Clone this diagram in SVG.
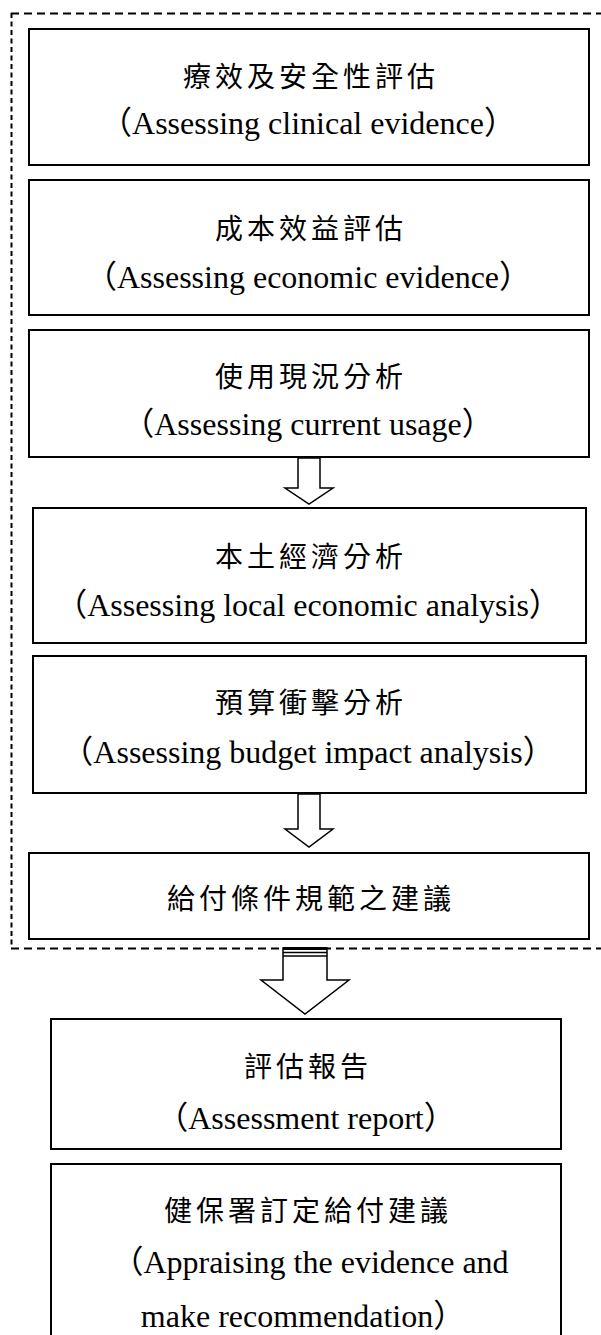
<svg xmlns="http://www.w3.org/2000/svg" width="601" height="1335" viewBox="0 0 601 1335">
<style>
.box{fill:#fff;stroke:#000;stroke-width:2}
.zh{font-family:"Noto Sans CJK TC","Noto Sans CJK SC",sans-serif;font-size:28px;letter-spacing:4px;text-anchor:middle;dominant-baseline:central;fill:#000}
.en{font-family:"Liberation Serif","Noto Sans CJK TC",serif;font-size:32px;text-anchor:middle;dominant-baseline:central;fill:#000}
.arrow{fill:#fff;stroke:#000;stroke-width:1.5;stroke-linejoin:miter}
.dh{stroke:#000;stroke-width:2;stroke-dasharray:8 5;fill:none}
.dv{stroke:#000;stroke-width:2;stroke-dasharray:5 3.5;fill:none}
</style>
<rect width="601" height="1335" fill="#fff"/>
<g id="group-border">
<line class="dh" x1="11" y1="13.5" x2="601" y2="13.5"/>
<line class="dv" x1="11.5" y1="13" x2="11.5" y2="948"/>
<line class="dh" x1="11" y1="948.5" x2="601" y2="948.5"/>
</g>
<g id="node1">
<rect class="box" x="29" y="29" width="560" height="136"/>
<text class="zh" x="311" y="75">療效及安全性評估</text>
<text class="en" x="308" y="123">（Assessing clinical evidence）</text>
</g>
<g id="node2">
<rect class="box" x="29" y="180" width="560" height="135"/>
<text class="zh" x="311" y="227">成本效益評估</text>
<text class="en" x="308" y="277">（Assessing economic evidence）</text>
</g>
<g id="node3">
<rect class="box" x="29" y="330" width="560" height="127"/>
<text class="zh" x="311" y="375">使用現況分析</text>
<text class="en" x="308" y="424">（Assessing current usage）</text>
</g>
<g id="node4">
<rect class="box" x="33" y="508" width="553" height="135"/>
<text class="zh" x="311" y="555">本土經濟分析</text>
<text class="en" x="308" y="605">（Assessing local economic analysis）</text>
</g>
<g id="node5">
<rect class="box" x="33" y="656" width="553" height="137"/>
<text class="zh" x="311" y="701">預算衝擊分析</text>
<text class="en" x="308" y="752">（Assessing budget impact analysis）</text>
</g>
<g id="node6">
<rect class="box" x="29" y="853" width="560" height="86"/>
<text class="zh" x="311" y="897">給付條件規範之建議</text>
</g>
<g id="node7">
<rect class="box" x="51" y="1019" width="510" height="130"/>
<text class="zh" x="308" y="1065">評估報告</text>
<text class="en" x="306" y="1118">（Assessment report）</text>
</g>
<g id="node8">
<rect class="box" x="51" y="1164" width="510" height="180"/>
<text class="zh" x="308" y="1209">健保署訂定給付建議</text>
<text class="en" x="310" y="1262">（Appraising the evidence and</text>
<text class="en" x="303" y="1316">make recommendation）</text>
</g>
<g id="connectors">
<polygon class="arrow" points="298,458 320,458 320,488 333,488 309,504 285,488 298,488"/>
<polygon class="arrow" points="298,794 320,794 320,829 333,829 309,847 285,829 298,829"/>
<polygon class="arrow" points="283,948 327,948 327,980 349,980 305,1014 261,980 283,980"/>
<line x1="283" y1="948.5" x2="327" y2="948.5" stroke="#000" stroke-width="3"/>
<line x1="283" y1="952.5" x2="327" y2="952.5" stroke="#000" stroke-width="1.3"/>
<line x1="283" y1="956" x2="327" y2="956" stroke="#000" stroke-width="1.3"/>
</g>
</svg>
